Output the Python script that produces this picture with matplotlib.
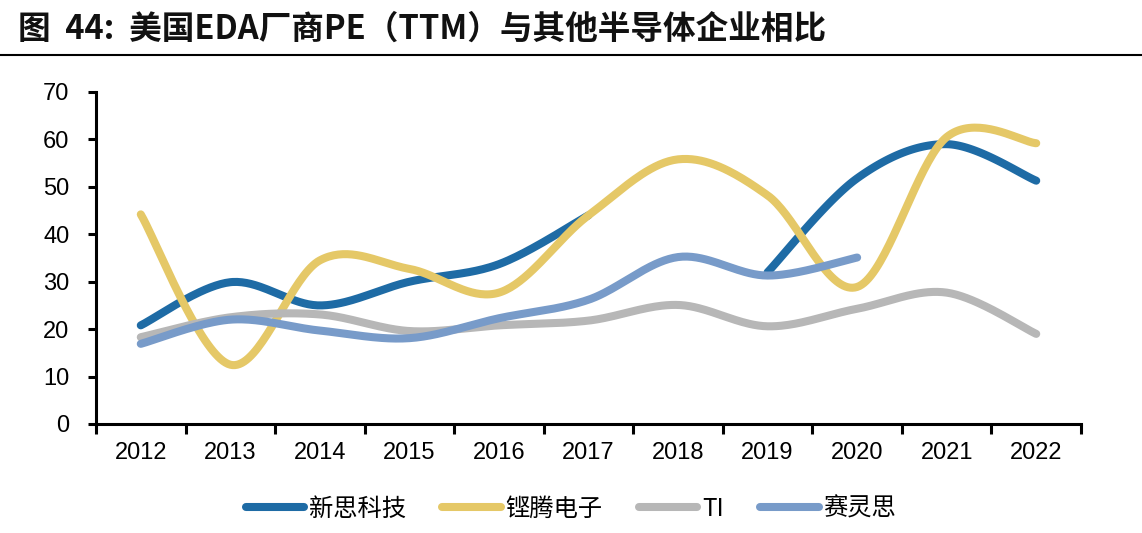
import numpy as np
import matplotlib
matplotlib.use("Agg")
import matplotlib.pyplot as plt
from matplotlib.lines import Line2D

years = ["2012", "2013", "2014", "2015", "2016", "2017", "2018", "2019", "2020", "2021", "2022"]
synopsys = [20.8, 29.9, 25.0, 30.0, 33.7, 44.0, np.nan, 32.0, 51.8, 59.0, 51.3]
cadence = [44.2, 12.5, 34.5, 32.7, 27.7, 44.0, 55.8, 48.2, 28.9, 60.5, 59.2]
ti = [18.3, 22.5, 23.1, 19.6, 20.8, 21.8, 25.1, 20.6, 24.3, 27.7, 19.0]
xilinx = [16.9, 22.0, 19.7, 18.1, 22.3, 26.2, 35.2, 31.3, 35.1, np.nan, np.nan]
names = ["新思科技", "铿腾电子", "TI", "赛灵思"]
colors = ["#1E6BA5", "#E5C867", "#B7B7B7", "#789BC9"]
yticks = [0, 10, 20, 30, 40, 50, 60, 70]
title = "图  44:  美国EDA厂商PE（TTM）与其他半导体企业相比"

plt.rcParams['font.family'] = ['Liberation Sans', 'Noto Sans CJK SC', 'DejaVu Sans']


def smooth(xs, ys, n=40):
    xs = np.asarray(xs, float)
    ys = np.asarray(ys, float)
    P = np.column_stack([xs, ys])
    m = len(P)
    if m < 2:
        return xs, ys
    out = []
    t = np.linspace(0, 1, n)[:, None]
    for i in range(m - 1):
        p0 = P[i - 1] if i > 0 else P[i]
        p1 = P[i]
        p2 = P[i + 1]
        p3 = P[i + 2] if i + 2 < m else P[i + 1]
        c1 = p1 + (p2 - p0) / 6.0
        c2 = p2 - (p3 - p1) / 6.0
        seg = ((1 - t) ** 3) * p1 + 3 * ((1 - t) ** 2) * t * c1 + 3 * (1 - t) * t ** 2 * c2 + t ** 3 * p2
        out.append(seg if i == 0 else seg[1:])
    arr = np.vstack(out)
    return arr[:, 0], arr[:, 1]


fig = plt.figure(figsize=(11.42, 5.33), dpi=100)
ax = fig.add_axes([96 / 1142, 1 - 424 / 533, (1081 - 96) / 1142, (424 - 92) / 533])

x = np.arange(len(years))
for vals, col in zip([synopsys, cadence, ti, xilinx], colors):
    v = np.asarray(vals, float)
    ok = ~np.isnan(v)
    runs = []
    cur = []
    for i in range(len(v)):
        if ok[i]:
            cur.append(i)
        else:
            if cur:
                runs.append(cur)
            cur = []
    if cur:
        runs.append(cur)
    for r in runs:
        sx, sy = smooth(x[r], v[r])
        ax.plot(sx, sy, color=col, lw=5.8, solid_capstyle='round', solid_joinstyle='round')

ax.set_xlim(-0.5, len(years) - 0.5)
ax.set_ylim(0, 70)
ax.set_yticks(yticks)
ax.set_yticklabels([str(t) for t in yticks])
ax.set_xticks(np.arange(-0.5, len(years), 1.0))
ax.set_xticklabels([])
ax.set_xticks(x, minor=True)
ax.set_xticklabels(years, minor=True)
ax.tick_params(axis='x', which='major', length=7, width=2.2, direction='out', color='black')
ax.tick_params(axis='x', which='minor', length=0, pad=13, labelsize=17)
ax.tick_params(axis='y', length=6, width=2.2, direction='out', pad=13, labelsize=17)
for s in ['top', 'right']:
    ax.spines[s].set_visible(False)
for s in ['left', 'bottom']:
    ax.spines[s].set_linewidth(2.2)
    ax.spines[s].set_color('black')

handles = [Line2D([0], [0], color=c, lw=5.8, solid_capstyle='round') for c in colors]
leg = fig.legend(handles, names, loc='center', bbox_to_anchor=(0.5, 1 - 509 / 533), ncol=4,
                 frameon=False, handlelength=2.4, handletextpad=0.2, columnspacing=1.5,
                 prop={'family': ['Noto Sans CJK SC', 'DejaVu Sans'], 'size': 17.5})

fig.text(18 / 1142, 1 - 29 / 533, title, ha='left', va='center', fontsize=23.5, fontweight='bold',
         family=['Noto Sans CJK SC', 'DejaVu Sans'], color='#111111')
fig.add_artist(Line2D([0, 1], [1 - 55 / 533, 1 - 55 / 533], transform=fig.transFigure, color='black', lw=1.5))

fig.savefig("out.png", dpi=100)
